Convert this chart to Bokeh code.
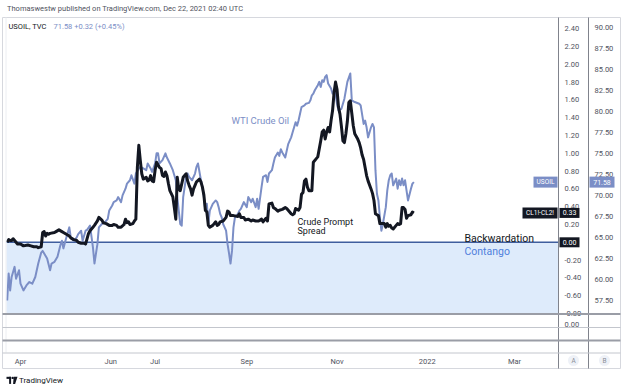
import pandas as pd
from bokeh.plotting import figure
from bokeh.models import Range1d, LinearAxis, FixedTicker, NumeralTickFormatter, BoxAnnotation
from bokeh.core.properties import value
from bokeh.embed import file_html
from bokeh.resources import INLINE

# ---------------- data ----------------
BASE_DATE = "2021-04-01"   # day 0 of the day offsets below

wti_day = [-9, -8, -7, -6, -4, -3, -1, 0, 2, 4, 6, 8, 10, 12, 14, 15, 17, 18, 20, 21, 23, 25, 27, 28, 29,
           31, 33, 34, 36, 38, 39, 41, 42, 44, 45, 47, 49, 50, 52, 53, 55, 57, 59, 60, 62, 63, 65, 66, 68,
           69, 71, 72, 74, 75, 77, 78, 80, 81, 83, 85, 86, 88, 89, 91, 92, 93, 94, 96, 98, 99, 101, 103,
           105, 106, 108, 109, 110, 112, 113, 114, 116, 118, 119, 120, 122, 123, 124, 125, 126, 127, 128,
           130, 132, 133, 134, 135, 136, 137, 139, 140, 141, 142, 143, 144, 145, 147, 148, 149, 150, 151,
           153, 154, 156, 157, 159, 160, 161, 163, 164, 166, 167, 168, 170, 171, 172, 174, 175, 176, 177,
           179, 180, 181, 183, 184, 185, 186, 187, 188, 189, 190, 192, 193, 195, 196, 197, 198, 199, 201,
           202, 203, 204, 205, 206, 207, 208, 210, 211, 212, 213, 214, 215, 217, 219, 220, 221, 223, 224,
           226, 229, 230, 232, 233, 234, 235, 237, 238, 239, 240, 241, 242, 243, 244, 245, 247, 248, 249,
           250, 251, 252, 254, 255, 256, 257, 258, 259, 260, 261, 262, 264, 265, 266]
wti_close = [57.5, 60.7, 58.7, 60.3, 61.5, 60.1, 61.1, 59.5, 58.7, 59.3, 59.7, 59.5, 60.3, 61.9, 63.2, 63.4,
             62.8, 62.5, 61.1, 61.9, 62.1, 62.7, 64.1, 64.6, 63.7, 65.0, 66.2, 65.0, 64.6, 65.0, 65.4, 65.8,
             64.6, 65.8, 65.9, 66.4, 63.8, 61.9, 64.2, 66.2, 66.6, 66.8, 67.2, 68.2, 68.8, 69.2, 69.4, 69.8,
             69.2, 70.0, 70.8, 71.4, 71.8, 72.4, 71.4, 72.6, 73.2, 73.4, 73.2, 73.0, 73.8, 73.2, 72.8, 73.8,
             75.0, 75.0, 73.8, 74.2, 75.0, 74.5, 73.8, 73.0, 71.8, 69.8, 66.6, 66.4, 69.8, 72.2, 72.6, 72.2,
             71.8, 72.6, 73.4, 73.8, 71.8, 71.0, 69.8, 68.2, 69.0, 66.6, 68.2, 69.0, 69.4, 69.2, 68.6, 67.8,
             67.4, 66.6, 65.8, 64.2, 63.1, 61.9, 63.4, 66.2, 67.4, 67.8, 68.2, 68.4, 68.8, 69.2, 68.6, 69.8,
             69.2, 69.6, 68.6, 69.6, 68.4, 71.0, 72.2, 72.4, 71.6, 72.6, 73.0, 73.8, 74.5, 75.1, 74.7, 75.5,
             75.1, 74.5, 75.3, 76.1, 76.9, 77.5, 78.1, 78.7, 78.3, 78.9, 79.7, 80.5, 80.7, 80.9, 81.0, 81.3,
             81.9, 82.1, 82.5, 83.1, 83.5, 82.9, 83.7, 83.5, 84.1, 84.3, 83.3, 82.7, 82.1, 82.3, 82.1, 80.9,
             80.1, 80.3, 81.5, 82.5, 83.5, 84.5, 81.3, 81.1, 80.9, 80.7, 78.5, 78.9, 78.1, 76.9, 78.1, 78.5,
             78.1, 73.0, 70.2, 69.4, 67.4, 65.8, 66.6, 68.6, 70.6, 71.8, 72.4, 72.6, 71.2, 72.0, 70.8, 71.8,
             71.2, 72.0, 71.2, 71.8, 70.6, 69.4, 70.8, 71.4, 71.58]

spread_day = [-9, -8, -7, -6, -5, -3, -2, 0, 2, 5, 7, 9, 11, 12, 14, 15, 16, 17, 18, 19, 20, 23, 24, 26, 28,
              29, 31, 33, 34, 36, 38, 39, 41, 43, 44, 46, 47, 48, 49, 50, 52, 53, 55, 56, 58, 60, 62, 63, 65,
              66, 68, 70, 71, 72, 73, 74, 76, 77, 78, 79, 80, 81, 82, 83, 85, 86, 87, 88, 89, 90, 91, 92, 94,
              95, 96, 97, 98, 99, 100, 101, 103, 104, 105, 106, 107, 108, 110, 112, 113, 114, 115, 116, 117,
              118, 119, 121, 122, 123, 124, 125, 126, 127, 128, 130, 132, 133, 134, 135, 137, 139, 140, 141,
              142, 144, 147, 148, 149, 151, 152, 154, 156, 157, 159, 161, 163, 164, 166, 167, 168, 170, 171,
              172, 174, 175, 177, 179, 180, 181, 183, 184, 185, 186, 188, 189, 190, 191, 192, 193, 194, 195,
              197, 198, 200, 201, 203, 204, 205, 206, 207, 208, 209, 210, 211, 212, 213, 214, 215, 216, 217,
              218, 219, 220, 221, 222, 223, 224, 225, 226, 228, 229, 230, 231, 232, 233, 234, 235, 237, 238,
              239, 240, 241, 242, 243, 244, 246, 247, 248, 249, 250, 251, 252, 254, 255, 256, 257, 258, 259,
              260, 261, 262, 264, 265, 266]
spread_value = [0.00, 0.03, 0.02, 0.02, 0.04, 0.00, -0.02, -0.02, -0.04, -0.03, -0.04, -0.05, -0.05, -0.06,
                -0.05, 0.11, 0.12, 0.07, 0.10, 0.09, 0.10, 0.11, 0.12, 0.14, 0.12, 0.11, 0.09, 0.07, 0.05,
                0.03, 0.02, 0.00, -0.01, -0.01, -0.02, 0.10, 0.13, 0.15, 0.17, 0.19, 0.24, 0.28, 0.25, 0.22,
                0.21, 0.19, 0.19, 0.20, 0.19, 0.17, 0.17, 0.20, 0.26, 0.22, 0.23, 0.20, 0.21, 0.24, 0.26,
                0.84, 1.09, 0.92, 0.77, 0.71, 0.73, 0.69, 0.70, 0.75, 0.69, 0.68, 0.81, 0.90, 0.84, 0.83,
                0.75, 0.74, 0.79, 0.75, 0.66, 0.58, 0.51, 0.39, 0.26, 0.73, 0.60, 0.58, 0.73, 0.77, 0.69,
                0.64, 0.60, 0.53, 0.60, 0.64, 0.68, 0.71, 0.68, 0.62, 0.53, 0.36, 0.34, 0.19, 0.17, 0.19,
                0.23, 0.19, 0.20, 0.23, 0.24, 0.28, 0.35, 0.34, 0.30, 0.30, 0.29, 0.32, 0.28, 0.28, 0.25,
                0.26, 0.24, 0.25, 0.24, 0.24, 0.26, 0.23, 0.27, 0.24, 0.43, 0.44, 0.39, 0.38, 0.35, 0.36,
                0.37, 0.39, 0.38, 0.36, 0.32, 0.31, 0.32, 0.38, 0.36, 0.39, 0.54, 0.56, 0.69, 0.71, 0.62,
                0.58, 0.58, 0.90, 0.94, 0.96, 1.14, 1.24, 1.26, 1.16, 1.24, 1.29, 1.24, 1.37, 1.48, 1.68,
                1.80, 1.72, 1.52, 1.44, 1.30, 1.14, 1.12, 1.22, 1.36, 1.57, 1.59, 1.45, 1.31, 1.22, 1.16,
                1.12, 1.06, 0.98, 0.93, 0.84, 0.75, 0.69, 0.60, 0.55, 0.47, 0.32, 0.31, 0.30, 0.21, 0.21,
                0.21, 0.17, 0.21, 0.18, 0.19, 0.16, 0.15, 0.19, 0.21, 0.20, 0.21, 0.39, 0.39, 0.37, 0.27,
                0.30, 0.31, 0.34, 0.33]

spread_ticks = [-0.8, -0.6, -0.4, -0.2, 0.0, 0.2, 0.4, 0.6, 0.8, 1.0, 1.2, 1.4, 1.6, 1.8, 2.0, 2.2, 2.4]
price_ticks = [57.5, 60.0, 62.5, 65.0, 67.5, 70.0, 72.5, 75.0, 77.5, 80.0, 82.5, 85.0, 87.5, 90.0]
month_dates = ["2021-04-01", "2021-06-01", "2021-07-01", "2021-09-01", "2021-11-01", "2022-01-01", "2022-03-01"]
month_labels = ["Apr", "Jun", "Jul", "Sep", "Nov", "2022", "Mar"]

symbol = "USOIL, TVC"
last_price = 71.58
last_change = "+0.32 (+0.45%)"
spread_symbol = "CL1!-CL2!"
last_spread = 0.33
header = "Thomaswestw published on TradingView.com, Dec 22, 2021 02:40 UTC"

# ---------------- layout (screen geometry of the reference) ----------------
W, H = 624, 391
X_DAY0, PX_PER_DAY = 20.0, 1.479
Y_SPREAD0, PX_PER_SPREAD = 241.8, 89.0
Y_P90, PX_PER_USD = 26.7, 8.41
DAY_MS = 86400000
base_ms = pd.Timestamp(BASE_DATE).value // 10**6


def to_ms(days):
    return [base_ms + d * DAY_MS for d in days]


def px_to_ms(xp):
    return base_ms + (xp - X_DAY0) / PX_PER_DAY * DAY_MS


x_lo, x_hi = px_to_ms(0), px_to_ms(W)
s_lo = (Y_SPREAD0 - H) / PX_PER_SPREAD
s_hi = Y_SPREAD0 / PX_PER_SPREAD
p_lo = 90 - (H - Y_P90) / PX_PER_USD
p_hi = 90 + Y_P90 / PX_PER_USD

p = figure(width=W, height=H, output_backend="svg", toolbar_location=None,
           x_axis_location=None, y_axis_location=None, min_border=0,
           x_range=Range1d(x_lo, x_hi), y_range=Range1d(s_lo, s_hi))
p.outline_line_color = None
p.xgrid.visible = False
p.ygrid.visible = False
p.background_fill_color = "white"
p.border_fill_color = "white"
p.extra_x_ranges = {"px": Range1d(0, W)}
p.extra_y_ranges = {"py": Range1d(H, 0), "price": Range1d(p_lo, p_hi)}

FONT = "Roboto"
TXT = "#131722"
GREY = "#50535e"
BLUE = "#7b8ec6"
LEFT, COL_A, COL_B, RIGHT = 2, 558, 588, 620
PLOT_L = 6

# contango zone
p.add_layout(BoxAnnotation(top=0, bottom=-0.8, left=px_to_ms(PLOT_L), right=px_to_ms(COL_A),
                           fill_color="#deebfb", fill_alpha=1.0, line_color=None, level="underlay"))
p.segment(x0=[px_to_ms(PLOT_L)], y0=[0], x1=[px_to_ms(COL_A)], y1=[0], line_color="#3f5e9e", line_width=1.5)

# series
p.line(to_ms(wti_day), wti_close, y_range_name="price", line_color=BLUE, line_width=2,
       line_join="round")
p.line(to_ms(spread_day), spread_value, line_color=TXT, line_width=3, line_join="round")


def seg(x0, y0, x1, y1, color, w):
    p.segment(x0=[x0], y0=[y0], x1=[x1], y1=[y1], x_range_name="px", y_range_name="py",
              line_color=color, line_width=w, level="overlay")


def txt(x, y, s, size, color, align="left", yr="py", xr="px", font=FONT, style="normal"):
    p.text(x=[x], y=[y], text=[s], x_range_name=xr, y_range_name=yr, text_font=value(font),
           text_font_size=f"{size}px", text_color=color, text_align=align, text_baseline="middle",
           text_font_style=style, level="overlay")


def box(xc, y, w, h, color, s, yr="py", size=7):
    p.rect(x=[xc], y=[y], width=w, height=h, width_units="screen", height_units="screen",
           x_range_name="px", y_range_name=yr, fill_color=color, line_color=None, level="overlay")
    txt(xc, y, s, size, "white", align="center", yr=yr)


# frame lines
seg(LEFT, 17, RIGHT, 17, "#d6d8de", 1)
seg(LEFT, 368, RIGHT, 368, "#d6d8de", 1)
seg(RIGHT, 17, RIGHT, 368, "#d6d8de", 1)
seg(LEFT, 17, LEFT, 368, "#d6d8de", 1)
seg(PLOT_L - 0.5, 17, PLOT_L - 0.5, 352, "#eceef2", 1)
seg(COL_A, 17, COL_A, 368, "#80838c", 1)
seg(COL_B, 17, COL_B, 368, "#80838c", 1)
seg(LEFT, 313.5, RIGHT, 313.5, "#9a9da6", 2)
seg(LEFT, 327, RIGHT, 327, "#c3c6cd", 1)
seg(LEFT, 340, RIGHT, 340, "#9a9da6", 2)
seg(LEFT, 352.5, RIGHT, 352.5, "#c3c6cd", 1)

# axes
ax_kw = dict(axis_line_color=None, major_tick_line_color=None, minor_tick_line_color=None,
             major_tick_out=0, major_tick_in=0, major_label_text_font=FONT,
             major_label_text_font_size="7.5px", major_label_text_color=GREY)
spread_axis = LinearAxis(x_range_name="px", fixed_location=COL_A, ticker=FixedTicker(ticks=spread_ticks),
                         formatter=NumeralTickFormatter(format="0.00"), major_label_standoff=6, **ax_kw)
price_axis = LinearAxis(x_range_name="px", y_range_name="price", fixed_location=COL_B,
                        ticker=FixedTicker(ticks=price_ticks), formatter=NumeralTickFormatter(format="0.00"),
                        major_label_standoff=6, **ax_kw)
month_ms = [int(pd.Timestamp(d).value // 10**6) for d in month_dates]
time_axis = LinearAxis(y_range_name="py", fixed_location=352.5, ticker=FixedTicker(ticks=month_ms),
                       major_label_overrides=dict(zip(month_ms, month_labels)), major_label_standoff=4,
                       **ax_kw)
p.add_layout(spread_axis, "right")
p.add_layout(price_axis, "right")
p.add_layout(time_axis, "below")

# texts
txt(6.5, 8, header, 7.5, GREY)
txt(8, 26, symbol, 7.5, TXT)
txt(53, 26, f"{last_price:.2f}  {last_change}", 7.5, BLUE)
txt(231, 120, "WTI Crude Oil", 9.5, BLUE)
txt(297, 221, "Crude Prompt", 9, TXT)
txt(297, 230.5, "Spread", 9, TXT)
txt(464, 238, "Backwardation", 10.5, TXT)
txt(464, 251, "Contango", 10.5, "#4f7fdc")
txt(564, 324, "0.00", 7.5, GREY)

# last value labels
box(545, last_price, 24, 11, BLUE, "USOIL", yr="price", size=6.5)
box(601.5, last_price, 25, 11, BLUE, f"{last_price:.2f}", yr="price", size=7)
box(539.5, last_spread, 35, 11, TXT, spread_symbol, yr="default", size=6.5)
box(569, last_spread, 20, 10, TXT, f"{last_spread:.2f}", yr="default", size=7)
box(569, 0.0, 20, 10, TXT, "0.00", yr="default", size=7)

# scale buttons
for xc, s in [(573, "A"), (604, "B")]:
    p.scatter(x=[xc], y=[360], size=11, marker="circle", x_range_name="px", y_range_name="py",
              fill_color="#eef1f7", line_color=None, level="overlay")
    txt(xc, 360.3, s, 6.5, "#8a8d96", align="center")

# TradingView footer
p.quad(left=[6, 8.6], right=[10.6, 10.6], top=[376.3, 376.3], bottom=[378.4, 383.4],
       x_range_name="px", y_range_name="py", fill_color=TXT, line_color=None, level="overlay")
p.scatter(x=[12.2], y=[377.4], size=2.4, marker="circle", x_range_name="px", y_range_name="py",
          fill_color=TXT, line_color=None, level="overlay")
p.patch(x=[13.2, 17, 14.6, 12.6], y=[376.3, 376.3, 383.4, 383.4], x_range_name="px", y_range_name="py",
        fill_color=TXT, line_color=None, level="overlay")
txt(18.5, 380, "TradingView", 8, TXT)

open("out.html", "w").write(file_html(p, INLINE))
